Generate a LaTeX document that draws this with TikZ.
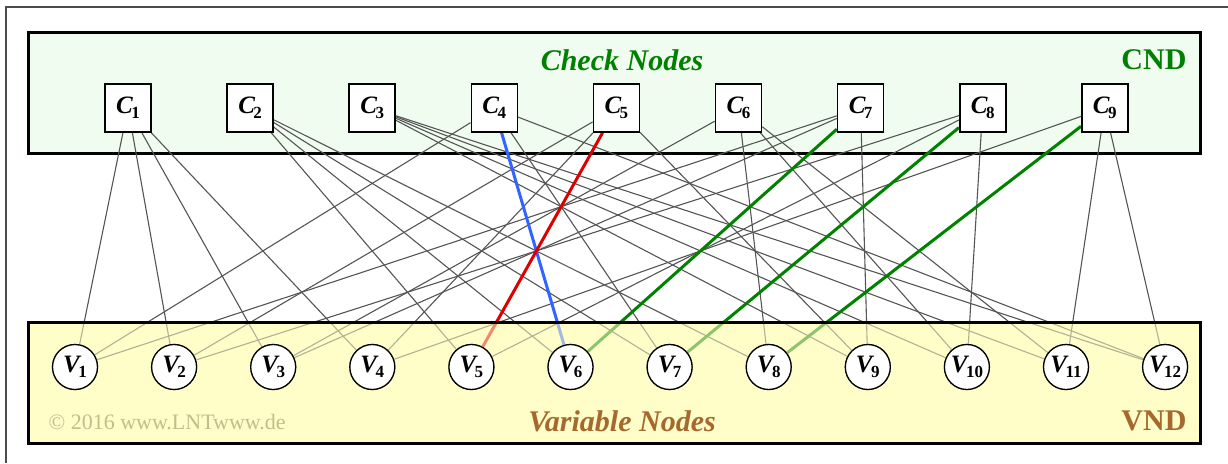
\documentclass[tikz,border=0pt]{standalone}
\usepackage{fontspec}
\setmainfont{Liberation Serif}
\usetikzlibrary{calc}
\definecolor{cndfill}{RGB}{240,252,240}
\definecolor{vndfill}{RGB}{255,253,200}
\definecolor{cndtext}{RGB}{0,128,0}
\definecolor{vndtext}{RGB}{165,105,45}
\definecolor{copytext}{RGB}{195,190,135}
\definecolor{edgegray}{RGB}{85,85,85}
\definecolor{eblue}{RGB}{50,100,255}
\definecolor{ered}{RGB}{220,0,0}
\definecolor{egreen}{RGB}{0,130,0}
\newcommand\nlab[2]{{\fontsize{25}{25}\selectfont\bfseries\itshape #1\kern-1.5pt\raisebox{-5pt}{\fontsize{17}{17}\selectfont\upshape #2}}}
\begin{document}
\begin{tikzpicture}[x=1pt,y=-1pt,
  cbox/.style={draw=black, line width=1.6pt, fill=white, minimum width=46pt, minimum height=48pt, inner sep=0pt},
  vcirc/.style={circle, draw=black, line width=1.3pt, fill=white, minimum size=45pt, inner sep=0pt},
  edge/.style={draw=edgegray, line width=1.1pt},
  hblue/.style={draw=eblue, line width=3pt},
  hred/.style={draw=ered, line width=3pt},
  hgreen/.style={draw=egreen, line width=3pt},
  band/.style={line width=3pt, draw=black}
]
\useasboundingbox (0,0) rectangle (1228,463);
\fill[white] (0,0) rectangle (1228,463);
\draw[line width=1.6pt, draw=black!70] (6,463) -- (6,7) -- (1228,7);

% check node band
\path[band, fill=cndfill] (28,32) rectangle (1200,153);
\node[text=cndtext, font=\fontsize{30}{30}\selectfont\bfseries\itshape] (cndtitle) at (622,60) {Check Nodes};
\node[text=cndtext, font=\fontsize{30}{30}\selectfont\bfseries, anchor=east] (cndlab) at (1190,60) {CND};

% variable node band (background)
\fill[vndfill] (28,322) rectangle (1200,443);

% nodes
\foreach \i in {1,...,9} {
  \node[cbox] (C\i) at ({128+122.1*(\i-1)},108) {\nlab{C}{\i}};
}
\foreach \i in {1,...,12} {
  \node[vcirc] (V\i) at ({75+99.1*(\i-1)},367) {};
}

% edges
\foreach \c/\v in {1/1,1/2,1/3,1/4,
                   2/5,2/6,2/7,2/8,
                   3/9,3/10,3/11,3/12,
                   4/1,4/7,4/12,
                   5/2,5/4,5/9,
                   6/3,6/8,6/10,6/11,
                   7/1,7/3,7/9,
                   8/2,8/5,8/10,
                   9/4,9/11,9/12} {
  \draw[edge] (C\c) -- (V\v);
}
\draw[hblue] (C4) -- (V6);
\draw[hred] (C5) -- (V5);
\draw[hgreen] (C7) -- (V6);
\draw[hgreen] (C8) -- (V7);
\draw[hgreen] (C9) -- (V8);

% translucent overlay of the variable node band
\fill[vndfill, opacity=0.55] (28,322) rectangle (1200,443);
\draw[band] (28,322) rectangle (1200,443);

% redraw nodes on top
\foreach \i in {1,...,12} {
  \node[vcirc] at (V\i) {\nlab{V}{\i}};
}
\foreach \i in {1,...,9} {
  \node[cbox] at (C\i) {\nlab{C}{\i}};
}

\node[text=vndtext, font=\fontsize{30}{30}\selectfont\bfseries\itshape] (vndtitle) at (622,421) {Variable Nodes};
\node[text=vndtext, font=\fontsize{30}{30}\selectfont\bfseries, anchor=east] (vndlab) at (1190,421) {VND};
\node[text=copytext, font=\fontsize{22}{22}\selectfont, anchor=west] (copy) at (45,422) {© 2016 www.LNTwww.de};
\end{tikzpicture}
\end{document}
